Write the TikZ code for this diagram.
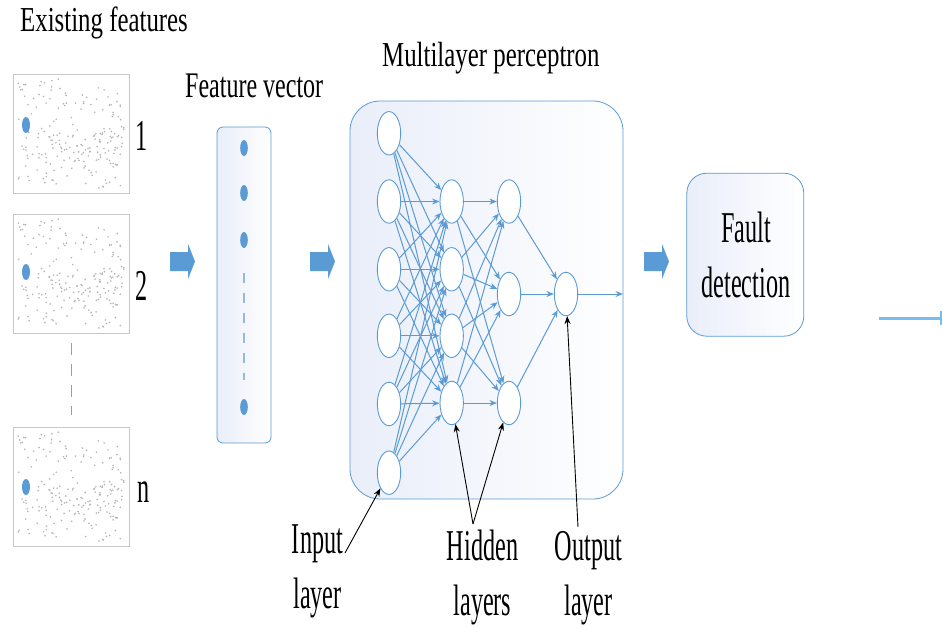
\documentclass[tikz,border=0pt]{standalone}
\usepackage{fontspec}
\usepackage{graphicx}
\setmainfont{Liberation Serif}
\usetikzlibrary{shapes.geometric,arrows.meta}

\definecolor{netblue}{RGB}{91,155,213}
\definecolor{panelblue}{RGB}{233,238,249}
\definecolor{tileedge}{RGB}{200,200,200}
\definecolor{speck}{RGB}{180,180,180}
\definecolor{dashblue}{RGB}{150,185,225}
\definecolor{gapgray}{RGB}{150,158,170}
\definecolor{skyline}{RGB}{120,188,235}

% horizontally condensed text
\newcommand{\squeeze}[2]{\scalebox{#1}[1]{#2}}

% scattered specks inside a feature tile whose top-left corner is (#1,#2)
\newcommand{\scatterdots}[2]{%
  \pgfmathsetseed{4711}%
  \foreach \k in {1,...,150}{%
    \pgfmathsetmacro{\dx}{#1+5+106*rnd}%
    \pgfmathsetmacro{\dy}{#2+5+109*rnd}%
    \fill[speck] (\dx,\dy) circle (0.9);
  }%
  \foreach \k in {1,...,60}{%
    \pgfmathsetmacro{\dx}{#1+8+100*rnd}%
    \pgfmathsetmacro{\dy}{#2+55+35*rnd}%
    \fill[speck] (\dx,\dy) circle (0.9);
  }%
}

% chunky block arrow whose left edge is at x=#1
\newcommand{\blockarrow}[1]{%
  \fill[netblue] (#1,252) -- (#1+18,252) -- (#1+18,244) -- (#1+25,261.5)
    -- (#1+18,279) -- (#1+18,271) -- (#1,271) -- cycle;
}

\begin{document}
\begin{tikzpicture}[x=1pt,y=-1pt,
  neuron/.style={ellipse, draw=netblue, line width=0.9pt, fill=white,
    minimum width=23.4pt, minimum height=43.4pt, inner sep=0pt},
  link/.style={draw=netblue, line width=1pt, -{Stealth[length=7.5pt,width=6pt]}},
  pointer/.style={draw=black, line width=0.9pt, -{Stealth[length=8pt,width=6pt]}},
  tile/.style={rectangle, draw=tileedge, line width=0.8pt, fill=white,
    minimum width=116pt, minimum height=119pt, inner sep=0pt},
  panel/.style={rectangle, draw=netblue, line width=0.8pt,
    left color=panelblue, right color=white, inner sep=0pt},
  title/.style={inner sep=0pt, anchor=base west, font=\fontsize{35}{42}\selectfont},
  caption/.style={inner sep=0pt, anchor=base, font=\fontsize{44}{55}\selectfont},
  numlabel/.style={inner sep=0pt, anchor=base west, font=\fontsize{44}{55}\selectfont},
  bluedot/.style={fill=netblue}
]
\useasboundingbox (0,0) rectangle (943,627);
\fill[white] (0,0) rectangle (943,627);

% ---------- feature tiles ----------
\node[tile] (t1) at (71,133.5) {};
\node[tile] (t2) at (71,273.5) {};
\node[tile] (tn) at (71,486.5) {};
\scatterdots{13}{74}
\scatterdots{13}{214}
\scatterdots{13}{427}
\fill[bluedot] (26,125) ellipse (4 and 8);
\fill[bluedot] (26,272) ellipse (4 and 8);
\fill[bluedot] (26,487) ellipse (4 and 8);
\draw[gapgray, line width=1pt, dash pattern=on 12pt off 9pt] (t2.south) ++(0,10) -- ++(0,72);

\node[title] (ttiles) at (20,31) {\squeeze{0.71}{Existing features}};
\node[numlabel] (n1) at (135,150) {\squeeze{0.55}{1}};
\node[numlabel] (n2) at (135,300) {\squeeze{0.55}{2}};
\node[numlabel] (nn) at (137,502) {\squeeze{0.55}{n}};

% ---------- feature vector ----------
\node[panel, rounded corners=6pt, minimum width=54pt, minimum height=316pt] (vec) at (244,285) {};
\fill[bluedot] (244,148) ellipse (3.8 and 8);
\fill[bluedot] (244,193) ellipse (3.8 and 8);
\fill[bluedot] (244,240) ellipse (3.8 and 8);
\fill[bluedot] (244,407) ellipse (3.8 and 8);
\draw[dashblue, line width=1.2pt, dash pattern=on 10pt off 10pt] (244,273) -- (244,380);
\node[title] (tvec) at (185,97) {\fontsize{36}{42}\selectfont\squeeze{0.667}{Feature vector}};

% ---------- multilayer perceptron ----------
\node[panel, rounded corners=30pt, minimum width=273pt, minimum height=398pt] (mlp) at (486.5,300) {};
\node[title] (tmlp) at (382,66) {\squeeze{0.71}{Multilayer perceptron}};

\foreach \i/\y in {1/133.3,2/201.5,3/269.3,4/335.8,5/404,6/472.7}
  \node[neuron] (i\i) at (389,\y) {};
\foreach \j/\y in {1/201.5,2/269.3,3/335.8,4/403}
  \node[neuron] (h\j) at (451.7,\y) {};
\foreach \j/\y in {1/201.5,2/294,3/403}
  \node[neuron] (g\j) at (509,\y) {};
\node[neuron] (o) at (566,294) {};
\coordinate (outEnd) at (623,294);

\foreach \i in {1,...,6}
  \foreach \j in {1,...,4}
    \draw[link] (i\i) -- (h\j);
\foreach \i in {1,...,4}
  \foreach \j in {1,...,3}
    \draw[link] (h\i) -- (g\j);
\foreach \j in {1,...,3}
  \draw[link] (g\j) -- (o);
\draw[link] (o) -- (outEnd);

% ---------- block arrows ----------
\blockarrow{170}
\blockarrow{310}
\blockarrow{644}

% ---------- fault detection ----------
\node[panel, rounded corners=20pt, minimum width=117pt, minimum height=163pt] (fault) at (745.3,254.7) {};
\node[caption] (faulttext) at (746,242) {\squeeze{0.55}{\begin{tabular}[t]{@{}c@{}}Fault\\detection\end{tabular}}};

% ---------- layer captions ----------
\node[caption] (cin) at (317.5,553) {\squeeze{0.55}{\begin{tabular}[t]{@{}c@{}}Input\\layer\end{tabular}}};
\node[caption] (chid) at (482.5,560) {\squeeze{0.55}{\begin{tabular}[t]{@{}c@{}}Hidden\\layers\end{tabular}}};
\node[caption] (cout) at (588.5,560) {\squeeze{0.55}{\begin{tabular}[t]{@{}c@{}}Output\\layer\end{tabular}}};

\coordinate (inPt) at (345,553);
\coordinate (hidPt) at (473,524);
\coordinate (outPt) at (578,527);
\draw[pointer] (inPt) -- (i6);
\draw[pointer] (hidPt) -- (h4);
\draw[pointer] (hidPt) -- (g3);
\draw[pointer] (outPt) -- (o);

% ---------- line at the right edge ----------
\coordinate (edgeA) at (879,318.3);
\coordinate (edgeB) at (942,318.3);
\draw[skyline, line width=2.5pt, -{Bar[width=14pt]}] (edgeA) -- (edgeB);
\end{tikzpicture}
\end{document}
